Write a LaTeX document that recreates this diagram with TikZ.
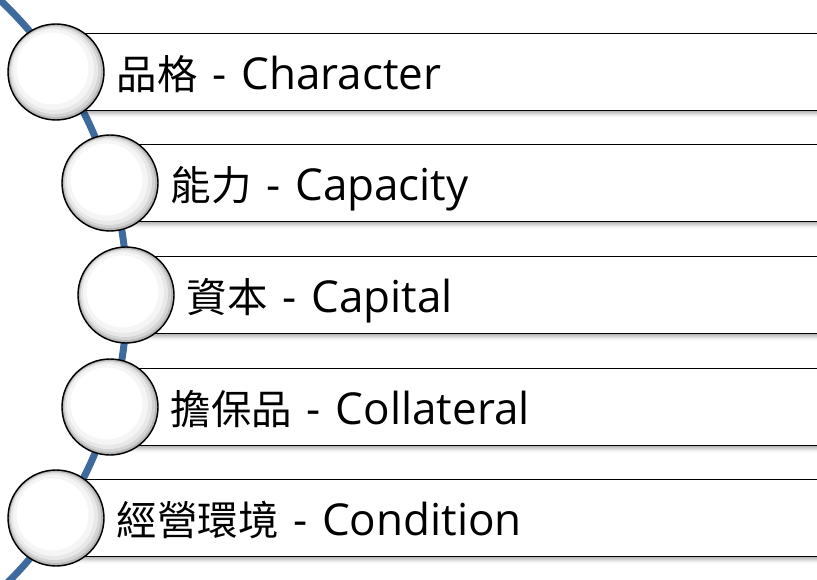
\documentclass[tikz,border=0pt]{standalone}
\usepackage{fontspec}
\setmainfont{Open Sans}
\newfontfamily\cjk{Noto Sans CJK TC}[Scale=0.92]
\usepackage{xcolor}
\usepackage{tikz}
\usetikzlibrary{positioning, calc, shadows.blur}
\definecolor{arcblue}{RGB}{62,106,158}

\begin{document}
\begin{tikzpicture}[
  x=1pt, y=-1pt,
  font=\fontsize{44}{52}\selectfont,
  bar/.style={rectangle, anchor=west, draw=black, line width=1.6pt, fill=white, minimum height=77pt, text width=700pt, text height=35pt, text depth=0pt, inner xsep=60pt, align=left, blur shadow={shadow xshift=0pt, shadow yshift=-3pt, shadow blur radius=4pt, shadow opacity=35}},
  orb/.style={circle, draw=black, line width=1.4pt, minimum size=96pt, fill=black!45,
    path picture={
      \fill[black!28] (path picture bounding box.center) circle [radius=47pt];
      \fill[black!17] ($(path picture bounding box.center)+(-0.5,-0.5)$) circle [radius=45.5pt];
      \fill[black!9] ($(path picture bounding box.center)+(-1.5,-1.5)$) circle [radius=43.5pt];
      \fill[black!4] ($(path picture bounding box.center)+(-2.5,-2.5)$) circle [radius=40.5pt];
      \fill[white] ($(path picture bounding box.center)+(-3.5,-3.5)$) circle [radius=36pt];
    }},
  curve/.style={draw=arcblue, line width=7pt}
]
\useasboundingbox (0,0) rectangle (817,580);
\clip (0,0) rectangle (817,580);
\coordinate (hub) at (-279,295);
\coordinate (p1) at (56,72);
\coordinate (p2) at (110,183);
\coordinate (p3) at (126,295);
\coordinate (p4) at (110,407);
\coordinate (p5) at (56,518);
% the blue curve behind everything
\draw [curve] (hub) circle [radius=406pt];
% bars
\node (character) [bar] at (p1) {{\cjk 品格} - Character};
\node (capacity) [bar] at (p2) {{\cjk 能力} - Capacity};
\node (capital) [bar] at (p3) {{\cjk 資本} - Capital};
\node (collateral) [bar] at (p4) {{\cjk 擔保品} - Collateral};
\node (condition) [bar] at (p5) {{\cjk 經營環境} - Condition};
% circles on top
\node (orb1) [orb] at (p1) {};
\node (orb2) [orb] at (p2) {};
\node (orb3) [orb] at (p3) {};
\node (orb4) [orb] at (p4) {};
\node (orb5) [orb] at (p5) {};
\end{tikzpicture}
\end{document}
